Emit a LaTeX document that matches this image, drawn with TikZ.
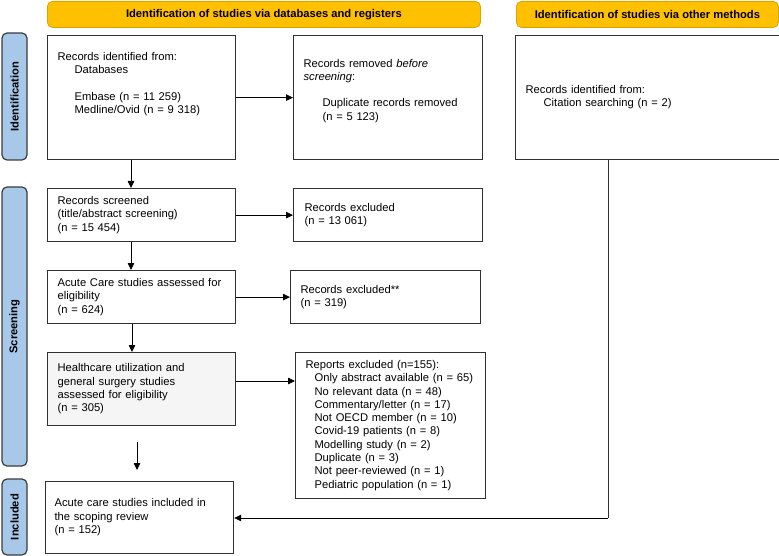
\documentclass[tikz,border=0pt]{standalone}
\usepackage{fontspec}
\setmainfont{Liberation Sans}
\usetikzlibrary{arrows.meta}
\definecolor{hdr}{HTML}{FFC000}
\definecolor{hdrb}{HTML}{D9A300}
\definecolor{side}{HTML}{A8C8EA}
\definecolor{sideb}{HTML}{3C3C3C}
\definecolor{boxb}{HTML}{303030}
\definecolor{grayfill}{HTML}{F5F5F5}
\begin{document}
\begin{tikzpicture}[x=1pt,y=-1pt,
  font=\fontsize{11.2}{13.3}\selectfont,
  box/.style={draw=boxb, line width=1.2pt, rectangle, align=left,
    inner xsep=10pt, inner ysep=0pt, anchor=north west},
  header/.style={draw=hdrb, fill=hdr, line width=0.8pt, rounded corners=5pt,
    font=\fontsize{11.2}{13.3}\selectfont\bfseries, minimum height=26pt, anchor=north west, inner sep=0pt},
  sidebar/.style={draw=sideb, fill=side, line width=1.2pt, rounded corners=5pt,
    font=\fontsize{11.2}{13.3}\selectfont\bfseries, minimum height=25pt, rotate=90, inner sep=0pt},
  arr/.style={draw=black, line width=0.8pt, -{Triangle[length=7pt,width=6.5pt]}},
  ln/.style={draw=boxb, line width=0.8pt}
]
\useasboundingbox (0,0) rectangle (779,556);

% headers
\node[header, minimum width=433pt] (h1) at (47,1) {Identification of studies via databases and registers};
\node[header, minimum width=262pt] (h2) at (516,1) {Identification of studies via other methods};

% side bars
\node[sidebar, minimum width=127pt] (s1) at (14.5,96.5) {Identification};
\node[sidebar, minimum width=279pt] (s2) at (14.5,326.5) {Screening};
\node[sidebar, minimum width=76pt] (s3) at (14.5,517) {Included};

% boxes
\node[box, minimum width=188pt, text width=168pt, minimum height=124pt] (A) at (47,35)
 {\strut Records identified from:\\ \hspace*{17pt}Databases\\ \strut\\ \hspace*{17pt}Embase (n = 11 259)\\ \hspace*{17pt}Medline/Ovid (n = 9 318)\\ \strut\\ \strut};
\node[box, minimum width=189pt, text width=169pt, minimum height=124pt] (B) at (293,35)
 {\strut Records removed \textit{before}\\ \textit{screening}:\\ \strut\\ \hspace*{19pt}Duplicate records removed\\ \hspace*{19pt}(n = 5 123)\\ \strut};
\node[box, minimum width=263.5pt, text width=243.5pt, minimum height=124pt] (C) at (515,35)
 {\strut Records identified from:\\ \hspace*{18pt}Citation searching (n = 2)\strut};
\node[box, minimum width=188pt, text width=168pt, minimum height=53pt] (D) at (47,188)
 {\strut Records screened\\ (title/abstract screening)\\ (n = 15 454)\strut};
\node[box, minimum width=189pt, text width=167pt, minimum height=53pt, inner xsep=11pt] (E) at (293,188)
 {\strut Records excluded\\ (n = 13 061)\strut};
\node[box, minimum width=188pt, text width=168pt, minimum height=53pt] (F) at (47,270)
 {\strut Acute Care studies assessed for\\ eligibility\\ (n = 624)\strut};
\node[box, minimum width=190pt, text width=170pt, minimum height=53pt] (G) at (290,270)
 {\strut Records excluded**\\ (n = 319)\strut};
\node[box, fill=grayfill, minimum width=188pt, text width=168pt, minimum height=73pt] (H) at (47,352)
 {\strut Healthcare utilization and\\ general surgery studies\\ assessed for eligibility\\ (n = 305)\strut};
\node[box, minimum width=190pt, text width=170pt, minimum height=146pt] (I) at (295,352)
 {\strut Reports excluded (n=155):\\
  \hspace*{9pt}Only abstract available (n = 65)\\
  \hspace*{9pt}No relevant data (n = 48)\\
  \hspace*{9pt}Commentary/letter (n = 17)\\
  \hspace*{9pt}Not OECD member (n = 10)\\
  \hspace*{9pt}Covid-19 patients (n = 8)\\
  \hspace*{9pt}Modelling study (n = 2)\\
  \hspace*{9pt}Duplicate (n = 3)\\
  \hspace*{9pt}Not peer-reviewed (n = 1)\\
  \hspace*{9pt}Pediatric population (n = 1)\strut};
\node[box, minimum width=188pt, text width=170pt, minimum height=72pt, inner xsep=9pt] (J) at (45,481)
 {\strut Acute care studies included in\\ the scoping review\\ (n = 152)\strut};

% helper coordinates
\coordinate (c1) at (131,0);
\coordinate (c2) at (132,0);
\coordinate (hy) at (0,381);
\coordinate (f1) at (137,442);
\coordinate (f2) at (137,470);
\coordinate (turn) at (608,518);

% connectors
\draw[arr] (A.east) -- (B.west);
\draw[arr] (A.south -| c1) -- (D.north -| c1);
\draw[arr] (D.east) -- (E.west);
\draw[arr] (D.south -| c1) -- (F.north -| c1);
\draw[arr] (F.east) -- (G.west);
\draw[arr] (F.south -| c2) -- (H.north -| c2);
\draw[arr] (H.east |- hy) -- (I.west |- hy);
\draw[arr] (f1) -- (f2);
\draw[ln] (C.south -| turn) -- (turn);
\draw[arr] (turn) -- (turn -| J.east);
\end{tikzpicture}
\end{document}
